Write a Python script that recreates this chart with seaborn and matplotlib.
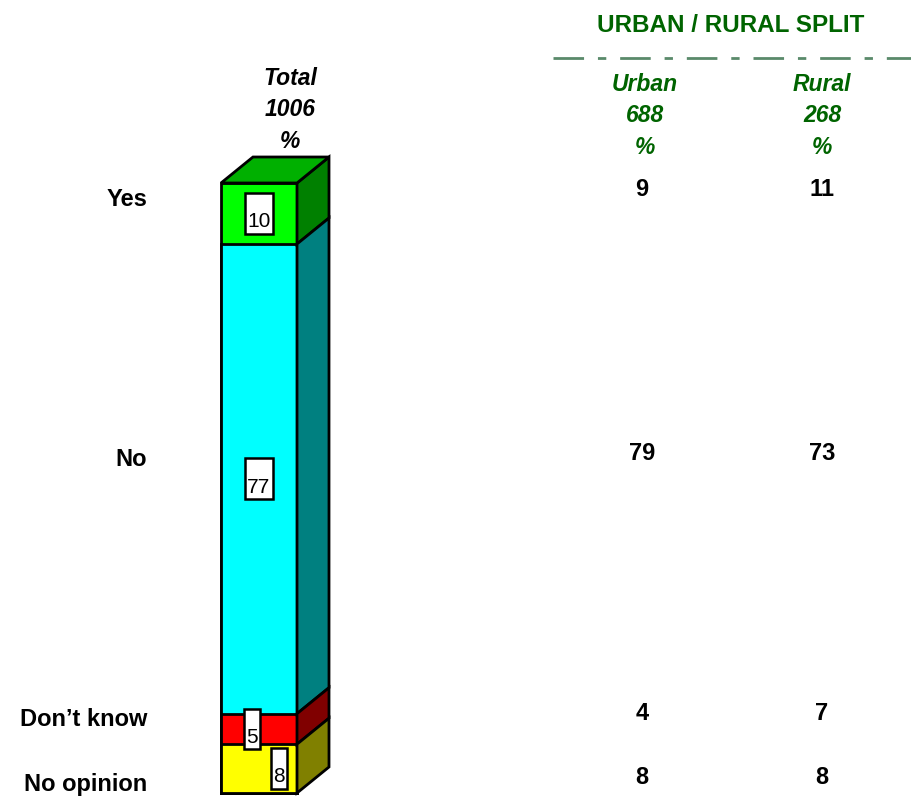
import matplotlib
matplotlib.use("Agg")
import matplotlib.pyplot as plt
from matplotlib.patches import Polygon
from matplotlib.lines import Line2D
import numpy as np
import seaborn as sns

sns.set_theme(style="white")
plt.rcParams['font.family'] = ['Liberation Sans', 'DejaVu Sans']
plt.rcParams['text.color'] = 'black'

# datos
categorias = ["Yes", "No", "Don\u2019t know", "No opinion"]
total = [10, 77, 5, 8]
urbano = [9, 79, 4, 8]
rural = [11, 73, 7, 8]
n_total, n_urbano, n_rural = 1006, 688, 268

# colores: frente, lado
frente = ["#00FF00", "#00FFFF", "#FF0000", "#FFFF00"]
lado = ["#008000", "#008080", "#800000", "#808000"]
tapa = "#00B000"
verde = "#006400"

W, H = 912, 799
fig = plt.figure(figsize=(W / 100, H / 100), dpi=100)
ax = fig.add_axes([0, 0, 1, 1])

def fx(x):
    return x / W

def fy(y):
    return 1 - y / H

# barra apilada: dibujamos acumulados de mayor a menor
acum = np.cumsum(total[::-1])[::-1]  # Yes arriba
for valor, color in zip(acum, frente):
    sns.barplot(x=["Total"], y=[valor], color=color, width=0.8,
                edgecolor="black", linewidth=2, saturation=1, ax=ax)

ax.set_xlim(-259 / 95, (W - 259) / 95)
ax.set_ylim(-(H - 793) / 6.1, 793 / 6.1)
ax.axis("off")

# profundidad 3D
dx, dy = 32 / 95, 26 / 6.1
x0, x1 = -0.4, 0.4
bordes = list(acum) + [0]
for i in range(len(total)):
    hi, lo = bordes[i], bordes[i + 1]
    ax.add_patch(Polygon([(x1, lo), (x1 + dx, lo + dy), (x1 + dx, hi + dy), (x1, hi)],
                         closed=True, fc=lado[i], ec="black", lw=2, zorder=3))
top = acum[0]
ax.add_patch(Polygon([(x0, top), (x0 + dx, top + dy), (x1 + dx, top + dy), (x1, top)],
                     closed=True, fc=tapa, ec="black", lw=2, zorder=3))

# etiquetas de valores en cajas blancas (caja alta, numero abajo)
desplaz = [0, 0, -0.075, 0.21]
for i in range(len(total)):
    mid = (bordes[i] + bordes[i + 1]) / 2
    ax.text(desplaz[i], mid, " \n" + str(total[i]), ha="center", va="center",
            fontsize=15, linespacing=0.85, zorder=5,
            bbox=dict(boxstyle="square,pad=0.12", fc="white", ec="black", lw=1.8))

# encabezados
cab = dict(ha="center", va="center", fontsize=16.5, fontweight="bold",
           style="italic", linespacing=1.45)
fig.text(fx(290), fy(110), f"Total\n{n_total}\n%", **cab)
fig.text(fx(645), fy(116), f"Urban\n{n_urbano}\n%", color=verde, **cab)
fig.text(fx(822), fy(116), f"Rural\n{n_rural}\n%", color=verde, **cab)
fig.text(fx(731), fy(25), "URBAN / RURAL SPLIT", ha="center", va="center",
         fontsize=17.5, fontweight="bold", color=verde)
fig.add_artist(Line2D([fx(553), fx(912)], [fy(58), fy(58)], transform=fig.transFigure,
                      color="#5a8a6a", lw=2, dashes=(11, 5, 3, 5)))

# filas
y_lab = [200, 460, 720, 784]
y_num = [190, 453, 713, 777]
for i, cat in enumerate(categorias):
    fig.text(fx(147), fy(y_lab[i]), cat, ha="right", va="center",
             fontsize=17, fontweight="bold")
    fig.text(fx(642), fy(y_num[i]), str(urbano[i]), ha="center", va="center",
             fontsize=17, fontweight="bold")
    fig.text(fx(822), fy(y_num[i]), str(rural[i]), ha="center", va="center",
             fontsize=17, fontweight="bold")

fig.savefig("out.png", dpi=100)
